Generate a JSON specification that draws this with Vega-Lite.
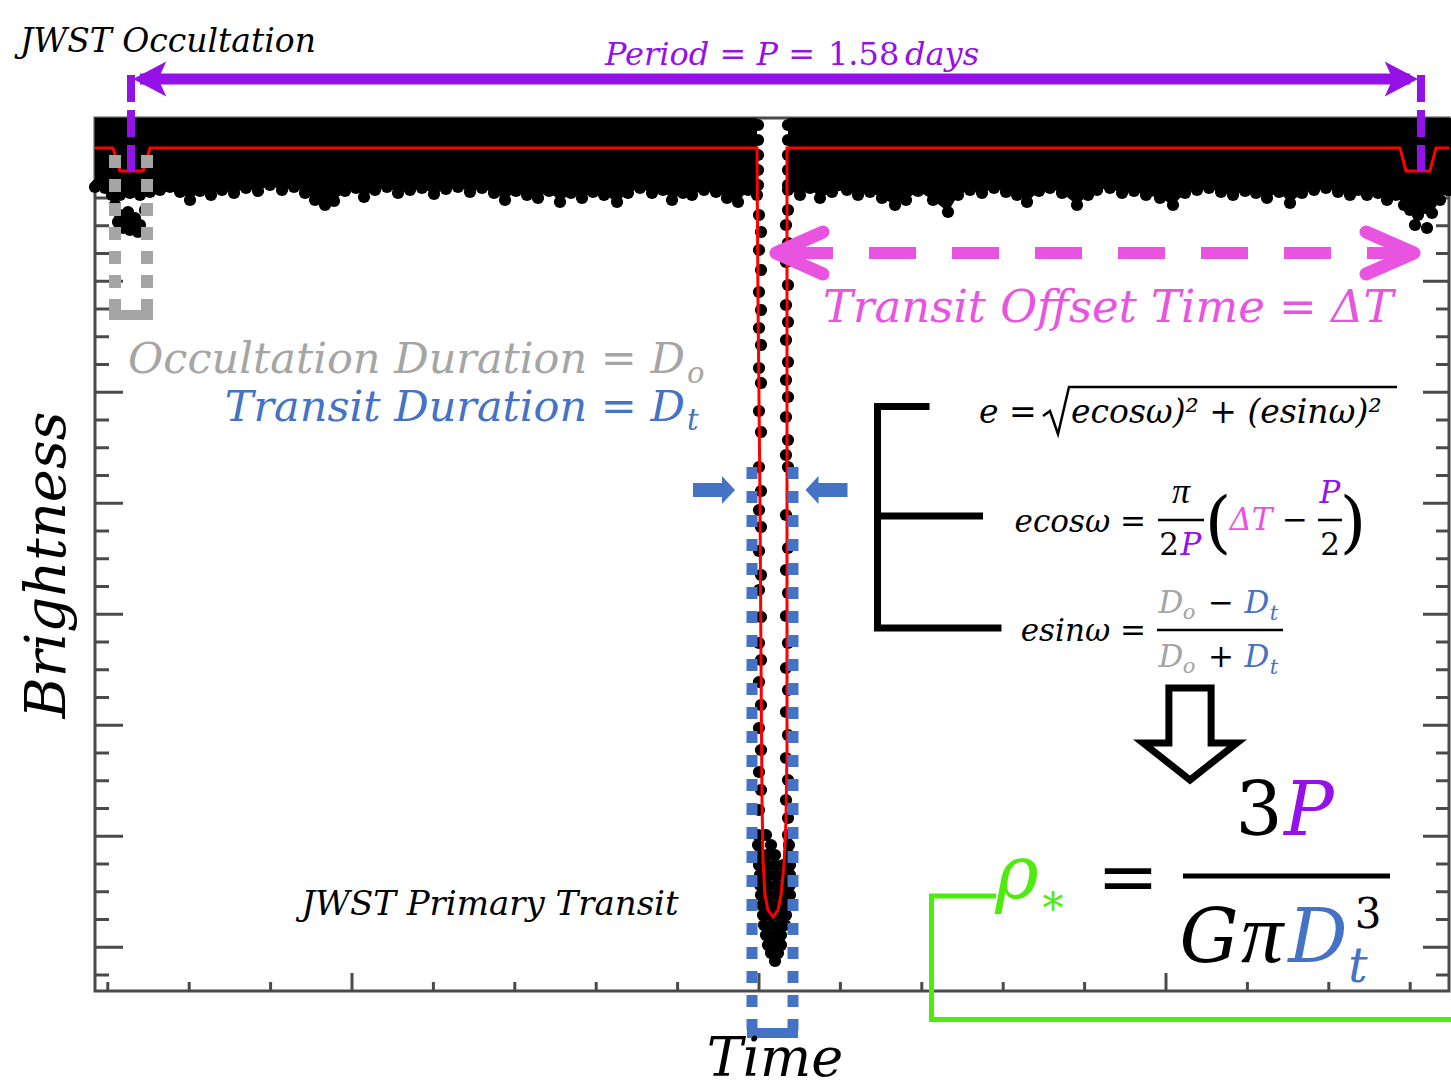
{
"$schema": "https://vega.github.io/schema/vega-lite/v6.json",
"width": 1354, "height": 873,
"autosize": {"type": "none"},
"padding": {"left": 95, "top": 118, "right": 2, "bottom": 97},
"background": "white",
"config": {"view": {"stroke": "#4a4a4a", "strokeWidth": 3}},
"datasets": {
"ticksx": [{"t":12.8,"major":false},{"t":94.2,"major":false},{"t":175.6,"major":false},{"t":257,"major":true},{"t":338.4,"major":false},{"t":419.8,"major":false},{"t":501.2,"major":false},{"t":582.6,"major":false},{"t":664,"major":true},{"t":745.4,"major":false},{"t":826.8,"major":false},{"t":908.2,"major":false},{"t":989.6,"major":false},{"t":1071,"major":true},{"t":1152.4,"major":false},{"t":1233.8,"major":false},{"t":1315.2,"major":false}],
"ticksy": [{"f":16,"major":false},{"f":43.75,"major":true},{"f":71.5,"major":false},{"f":99.25,"major":false},{"f":127,"major":false},{"f":154.75,"major":true},{"f":182.5,"major":false},{"f":210.25,"major":false},{"f":238,"major":false},{"f":265.75,"major":true},{"f":293.5,"major":false},{"f":321.25,"major":false},{"f":349,"major":false},{"f":376.75,"major":true},{"f":404.5,"major":false},{"f":432.25,"major":false},{"f":460,"major":false},{"f":487.75,"major":true},{"f":515.5,"major":false},{"f":543.25,"major":false},{"f":571,"major":false},{"f":598.75,"major":true},{"f":626.5,"major":false},{"f":654.25,"major":false},{"f":682,"major":false},{"f":709.75,"major":true},{"f":737.5,"major":false},{"f":765.25,"major":false},{"f":793,"major":false},{"f":820.75,"major":true},{"f":848.5,"major":false}],
"band": [
{"seg":"L","t":0,"f":804},{"seg":"L","t":2,"f":806},{"seg":"L","t":10,"f":803},{"seg":"L","t":17,"f":796},{"seg":"L","t":25,"f":796},{"seg":"L","t":35,"f":798},{"seg":"L","t":45,"f":796},{"seg":"L","t":55,"f":799},{"seg":"L","t":65,"f":801},{"seg":"L","t":75,"f":804},{"seg":"L","t":85,"f":799},{"seg":"L","t":95,"f":791},{"seg":"L","t":105,"f":800},{"seg":"L","t":116,"f":796},{"seg":"L","t":127,"f":801},{"seg":"L","t":139,"f":798},{"seg":"L","t":151,"f":803},{"seg":"L","t":163,"f":800},{"seg":"L","t":175,"f":806},{"seg":"L","t":187,"f":801},{"seg":"L","t":199,"f":804},{"seg":"L","t":210,"f":798},{"seg":"L","t":220,"f":791},{"seg":"L","t":230,"f":786},{"seg":"L","t":239,"f":790},{"seg":"L","t":250,"f":800},{"seg":"L","t":261,"f":803},{"seg":"L","t":269,"f":794},{"seg":"L","t":280,"f":801},{"seg":"L","t":292,"f":804},{"seg":"L","t":303,"f":798},{"seg":"L","t":315,"f":801},{"seg":"L","t":327,"f":803},{"seg":"L","t":339,"f":797},{"seg":"L","t":351,"f":802},{"seg":"L","t":363,"f":804},{"seg":"L","t":375,"f":799},{"seg":"L","t":387,"f":803},{"seg":"L","t":399,"f":798},{"seg":"L","t":410,"f":791},{"seg":"L","t":421,"f":800},{"seg":"L","t":432,"f":796},{"seg":"L","t":443,"f":793},{"seg":"L","t":454,"f":800},{"seg":"L","t":465,"f":789},{"seg":"L","t":476,"f":798},{"seg":"L","t":487,"f":793},{"seg":"L","t":498,"f":799},{"seg":"L","t":509,"f":796},{"seg":"L","t":522,"f":789},{"seg":"L","t":533,"f":798},{"seg":"L","t":545,"f":803},{"seg":"L","t":557,"f":798},{"seg":"L","t":568,"f":801},{"seg":"L","t":577,"f":791},{"seg":"L","t":588,"f":798},{"seg":"L","t":597,"f":796},{"seg":"L","t":609,"f":801},{"seg":"L","t":621,"f":799},{"seg":"L","t":632,"f":793},{"seg":"L","t":643,"f":789},{"seg":"L","t":653,"f":801},{"seg":"L","t":662,"f":796},
{"seg":"R","t":693,"f":801},{"seg":"R","t":705,"f":796},{"seg":"R","t":715,"f":803},{"seg":"R","t":725,"f":793},{"seg":"R","t":737,"f":799},{"seg":"R","t":752,"f":801},{"seg":"R","t":763,"f":796},{"seg":"R","t":775,"f":799},{"seg":"R","t":787,"f":793},{"seg":"R","t":800,"f":786},{"seg":"R","t":811,"f":791},{"seg":"R","t":823,"f":800},{"seg":"R","t":838,"f":791},{"seg":"R","t":853,"f":779},{"seg":"R","t":863,"f":796},{"seg":"R","t":875,"f":801},{"seg":"R","t":887,"f":798},{"seg":"R","t":899,"f":803},{"seg":"R","t":911,"f":799},{"seg":"R","t":922,"f":796},{"seg":"R","t":932,"f":789},{"seg":"R","t":944,"f":800},{"seg":"R","t":955,"f":803},{"seg":"R","t":967,"f":798},{"seg":"R","t":982,"f":786},{"seg":"R","t":993,"f":796},{"seg":"R","t":1002,"f":801},{"seg":"R","t":1015,"f":803},{"seg":"R","t":1027,"f":798},{"seg":"R","t":1039,"f":800},{"seg":"R","t":1051,"f":796},{"seg":"R","t":1065,"f":793},{"seg":"R","t":1078,"f":786},{"seg":"R","t":1090,"f":798},{"seg":"R","t":1102,"f":801},{"seg":"R","t":1114,"f":803},{"seg":"R","t":1126,"f":799},{"seg":"R","t":1138,"f":796},{"seg":"R","t":1150,"f":800},{"seg":"R","t":1161,"f":798},{"seg":"R","t":1172,"f":793},{"seg":"R","t":1184,"f":799},{"seg":"R","t":1195,"f":788},{"seg":"R","t":1207,"f":798},{"seg":"R","t":1219,"f":801},{"seg":"R","t":1231,"f":803},{"seg":"R","t":1243,"f":799},{"seg":"R","t":1255,"f":796},{"seg":"R","t":1263,"f":801},{"seg":"R","t":1272,"f":796},{"seg":"R","t":1283,"f":798},{"seg":"R","t":1292,"f":791},{"seg":"R","t":1301,"f":796},{"seg":"R","t":1309,"f":786},{"seg":"R","t":1315,"f":781},{"seg":"R","t":1323,"f":776},{"seg":"R","t":1330,"f":783},{"seg":"R","t":1337,"f":778},{"seg":"R","t":1345,"f":791},{"seg":"R","t":1352,"f":801},{"seg":"R","t":1356,"f":801}],
"pts": [
{"t":20,"f":786},{"t":25,"f":776},{"t":30,"f":769},{"t":35,"f":761},{"t":40,"f":773},{"t":45,"f":766},{"t":50,"f":781},{"t":33,"f":779},{"t":28,"f":763},{"t":43,"f":759},{"t":37,"f":769},{"t":23,"f":769},
{"t":1332,"f":763},{"t":1320,"f":766},
{"t":663,"f":866},{"t":663,"f":851},{"t":663,"f":836},{"t":663,"f":821},{"t":663,"f":806},{"t":693,"f":866},{"t":693,"f":851},{"t":693,"f":836},{"t":693,"f":821},{"t":693,"f":806},
{"t":664,"f":776},{"t":666,"f":759},{"t":664,"f":741},{"t":666,"f":721},{"t":664,"f":699},{"t":666,"f":681},{"t":664,"f":663},{"t":666,"f":646},{"t":664,"f":623},{"t":666,"f":608},{"t":664,"f":580},{"t":666,"f":559},{"t":664,"f":524},{"t":666,"f":500},{"t":664,"f":481},{"t":666,"f":464},{"t":664,"f":440},{"t":666,"f":416},{"t":664,"f":401},{"t":666,"f":374},{"t":664,"f":348},{"t":666,"f":331},{"t":664,"f":309},{"t":666,"f":286},{"t":664,"f":263},{"t":666,"f":241},{"t":664,"f":219},{"t":666,"f":201},{"t":664,"f":181},
{"t":693,"f":781},{"t":691,"f":766},{"t":693,"f":748},{"t":691,"f":729},{"t":693,"f":706},{"t":691,"f":686},{"t":693,"f":669},{"t":691,"f":651},{"t":693,"f":629},{"t":691,"f":611},{"t":693,"f":594},{"t":691,"f":574},{"t":693,"f":551},{"t":691,"f":536},{"t":693,"f":524},{"t":691,"f":476},{"t":693,"f":443},{"t":691,"f":421},{"t":693,"f":398},{"t":691,"f":375},{"t":693,"f":348},{"t":691,"f":323},{"t":693,"f":301},{"t":691,"f":279},{"t":693,"f":256},{"t":691,"f":233},{"t":693,"f":211},{"t":691,"f":191},{"t":693,"f":173},
{"t":663,"f":156},{"t":671,"f":156},{"t":693,"f":156},
{"t":663,"f":146},{"t":676,"f":146},{"t":694,"f":146},
{"t":664,"f":136},{"t":672,"f":136},{"t":680,"f":136},{"t":694,"f":136},
{"t":664,"f":126},{"t":672,"f":126},{"t":680,"f":126},{"t":688,"f":126},{"t":695,"f":126},
{"t":665,"f":116},{"t":673,"f":116},{"t":681,"f":116},{"t":689,"f":116},{"t":695,"f":116},
{"t":665,"f":106},{"t":673,"f":106},{"t":681,"f":106},{"t":689,"f":106},{"t":695,"f":106},
{"t":666,"f":96},{"t":674,"f":96},{"t":682,"f":96},{"t":690,"f":96},{"t":695,"f":96},
{"t":667,"f":86},{"t":675,"f":86},{"t":683,"f":86},{"t":691,"f":86},
{"t":668,"f":76},{"t":676,"f":76},{"t":684,"f":76},{"t":691,"f":76},
{"t":669,"f":66},{"t":677,"f":66},{"t":685,"f":66},{"t":690,"f":66},
{"t":671,"f":56},{"t":679,"f":56},{"t":686,"f":56},
{"t":673,"f":46},{"t":680,"f":46},{"t":686,"f":46},
{"t":676,"f":38},{"t":683,"f":38},
{"t":680,"f":30}],
"model": [{"i":1,"t":0,"f":843},{"i":2,"t":18,"f":843},{"i":3,"t":25,"f":820},{"i":4,"t":48,"f":820},{"i":5,"t":55,"f":843},{"i":6,"t":662,"f":843},{"i":7,"t":663,"f":691},{"i":8,"t":665,"f":491},{"i":9,"t":666,"f":331},{"i":10,"t":667,"f":191},{"i":11,"t":668,"f":131},{"i":12,"t":670,"f":96},{"i":13,"t":673,"f":81},{"i":14,"t":678,"f":74},{"i":15,"t":683,"f":81},{"i":16,"t":686,"f":96},{"i":17,"t":689,"f":126},{"i":18,"t":691,"f":171},{"i":19,"t":692,"f":241},{"i":20,"t":692,"f":843},{"i":21,"t":1305,"f":843},{"i":22,"t":1311,"f":820},{"i":23,"t":1335,"f":820},{"i":24,"t":1341,"f":843},{"i":25,"t":1354,"f":843}],
"rules": [
{"id":"pmain","t":45,"f":912,"t2":1315,"f2":912},
{"id":"pdl","t":36,"f":916,"t2":36,"f2":819},
{"id":"pdr","t":1326,"f":916,"t2":1326,"f2":819},
{"id":"gdl","t":20,"f":836,"t2":20,"f2":679},
{"id":"gdr","t":52,"f":836,"t2":52,"f2":679},
{"id":"gb","t":14,"f":676,"t2":58,"f2":676},
{"id":"bdl","t":657,"f":524,"t2":657,"f2":-39},
{"id":"bdr","t":698,"f":524,"t2":698,"f2":-39},
{"id":"bb","t":652,"f":-42,"t2":703,"f2":-42},
{"id":"kdash","t":691,"f":738,"t2":1319,"f2":738},
{"id":"kstub","t":682,"f":738,"t2":705,"f2":738},
{"id":"fb1","t":1063,"f":471,"t2":1109,"f2":471},
{"id":"fb2","t":1223,"f":471,"t2":1247,"f2":471},
{"id":"fb3","t":1062,"f":361,"t2":1188,"f2":361},
{"id":"bigbar","t":1088,"f":115,"t2":1295,"f2":115},
{"id":"brm","t":782.5,"f":475,"t2":888,"f2":475}],
"paths": [
{"id":"bracket","i":1,"t":831,"f":584.5},{"id":"bracket","i":2,"t":782.5,"f":584.5},{"id":"bracket","i":3,"t":782.5,"f":363},{"id":"bracket","i":4,"t":903,"f":363},
{"id":"green","i":1,"t":901,"f":95},{"id":"green","i":2,"t":836.5,"f":95},{"id":"green","i":3,"t":836.5,"f":-28.5},{"id":"green","i":4,"t":1365,"f":-28.5},
{"id":"chevL","i":1,"t":728,"f":759},{"id":"chevL","i":2,"t":681,"f":738},{"id":"chevL","i":3,"t":728,"f":717},
{"id":"chevR","i":1,"t":1271,"f":759},{"id":"chevR","i":2,"t":1319,"f":738},{"id":"chevR","i":3,"t":1271,"f":717},
{"id":"rad","i":1,"t":948,"f":575},{"id":"rad","i":2,"t":955,"f":580},{"id":"rad","i":3,"t":963,"f":557},{"id":"rad","i":4,"t":974,"f":604},{"id":"rad","i":5,"t":1302,"f":604}],
"shapes": [
{"id":"phl","t":55.5,"f":912},{"id":"phr","t":1305.5,"f":912},
{"id":"bal","t":619,"f":501},{"id":"bar","t":731.5,"f":501},
{"id":"down","t":1095,"f":257}],
"texts": [
{"id":"T1","label":"JWST Occultation","t":-75,"f":939,"role":"plain"},
{"id":"T2","label":"Period = P =","t":720,"f":926,"role":"period"},
{"id":"T3","label":"1.58","t":733,"f":926,"role":"period"},
{"id":"T4","label":"days","t":810,"f":926,"role":"period"},
{"id":"T5","label":"Transit Offset Time = ΔT","t":728,"f":669,"role":"offset"},
{"id":"T6","label":"Occultation Duration = D","t":590,"f":618,"role":"occult"},
{"id":"T7","label":"o","t":592,"f":608,"role":"occult"},
{"id":"T8","label":"Transit Duration = D","t":590,"f":570,"role":"transit"},
{"id":"T9","label":"t","t":592,"f":561,"role":"transit"},
{"id":"T10","label":"Brightness","t":-30,"f":426,"role":"plain"},
{"id":"T11","label":"Time","t":680,"f":-85,"role":"plain"},
{"id":"T12","label":"JWST Primary Transit","t":395,"f":76,"role":"plain"},
{"id":"T13","label":"e =","t":884,"f":568,"role":"plain"},
{"id":"T15","label":"ecosω)² + (esinω)²","t":976,"f":568,"role":"plain"},
{"id":"T16","label":"ecosω =","t":1051,"f":459,"role":"plain"},
{"id":"T17","label":"π","t":1086,"f":488,"role":"plain"},
{"id":"T18","label":"2","t":1074,"f":436,"role":"plain"},
{"id":"T19","label":"P","t":1096,"f":436,"role":"period"},
{"id":"T20","label":"(","t":1123,"f":446,"role":"plain"},
{"id":"T21","label":"ΔT","t":1156,"f":461,"role":"offset"},
{"id":"T22","label":"−","t":1200,"f":461,"role":"plain"},
{"id":"T23","label":"P","t":1235,"f":488,"role":"period"},
{"id":"T24","label":"2","t":1235,"f":436,"role":"plain"},
{"id":"T25","label":")","t":1258,"f":446,"role":"plain"},
{"id":"T26","label":"esinω =","t":1051,"f":350,"role":"plain"},
{"id":"T27","label":"D","t":1076,"f":378,"role":"occult"},
{"id":"T28","label":"o","t":1094,"f":372,"role":"occult"},
{"id":"T29","label":"−","t":1126,"f":378,"role":"plain"},
{"id":"T30","label":"D","t":1162,"f":378,"role":"transit"},
{"id":"T31","label":"t","t":1179,"f":371,"role":"transit"},
{"id":"T32","label":"D","t":1076,"f":324,"role":"occult"},
{"id":"T33","label":"o","t":1094,"f":318,"role":"occult"},
{"id":"T34","label":"+","t":1126,"f":324,"role":"plain"},
{"id":"T35","label":"D","t":1162,"f":324,"role":"transit"},
{"id":"T36","label":"t","t":1179,"f":317,"role":"transit"},
{"id":"T37","label":"ρ","t":922,"f":93,"role":"density"},
{"id":"T38","label":"*","t":958,"f":68,"role":"density"},
{"id":"T39","label":"=","t":1033,"f":89,"role":"plain"},
{"id":"T40","label":"3","t":1164,"f":156,"role":"plain"},
{"id":"T41","label":"P","t":1214,"f":156,"role":"period"},
{"id":"T42","label":"G","t":1114,"f":29,"role":"plain"},
{"id":"T46","label":"π","t":1167,"f":29,"role":"plain"},
{"id":"T43","label":"D","t":1223,"f":29,"role":"transit"},
{"id":"T44","label":"3","t":1273,"f":63,"role":"plain"},
{"id":"T45","label":"t","t":1263,"f":9,"role":"transit"}]
},
"layer": [
{"data": {"name": "ticksy"}, "transform": [{"filter": "datum.major"}], "mark": {"type": "rule", "strokeWidth": 3, "color": "#4a4a4a"}, "encoding": {"x": {"datum": 0, "type": "quantitative", "scale": {"domain": [0, 1354], "nice": false, "zero": false}, "axis": null}, "x2": {"datum": 28}, "y": {"field": "f", "type": "quantitative", "scale": {"domain": [0, 873], "nice": false, "zero": false}, "axis": null}}},
{"data": {"name": "ticksy"}, "transform": [{"filter": "!datum.major"}], "mark": {"type": "rule", "strokeWidth": 3, "color": "#4a4a4a"}, "encoding": {"x": {"datum": 0, "type": "quantitative", "scale": {"domain": [0, 1354], "nice": false, "zero": false}, "axis": null}, "x2": {"datum": 14}, "y": {"field": "f", "type": "quantitative", "scale": {"domain": [0, 873], "nice": false, "zero": false}, "axis": null}}},
{"data": {"name": "ticksy"}, "transform": [{"filter": "datum.major"}], "mark": {"type": "rule", "strokeWidth": 3, "color": "#4a4a4a"}, "encoding": {"x": {"datum": 1354, "type": "quantitative", "scale": {"domain": [0, 1354], "nice": false, "zero": false}, "axis": null}, "x2": {"datum": 1328}, "y": {"field": "f", "type": "quantitative", "scale": {"domain": [0, 873], "nice": false, "zero": false}, "axis": null}}},
{"data": {"name": "ticksy"}, "transform": [{"filter": "!datum.major"}], "mark": {"type": "rule", "strokeWidth": 3, "color": "#4a4a4a"}, "encoding": {"x": {"datum": 1354, "type": "quantitative", "scale": {"domain": [0, 1354], "nice": false, "zero": false}, "axis": null}, "x2": {"datum": 1341}, "y": {"field": "f", "type": "quantitative", "scale": {"domain": [0, 873], "nice": false, "zero": false}, "axis": null}}},
{"data": {"name": "ticksx"}, "transform": [{"filter": "datum.major"}], "mark": {"type": "rule", "strokeWidth": 3, "color": "#4a4a4a"}, "encoding": {"x": {"field": "t", "type": "quantitative", "scale": {"domain": [0, 1354], "nice": false, "zero": false}, "axis": null}, "y": {"datum": 0, "type": "quantitative", "scale": {"domain": [0, 873], "nice": false, "zero": false}, "axis": null}, "y2": {"datum": 18}}},
{"data": {"name": "ticksx"}, "transform": [{"filter": "!datum.major"}], "mark": {"type": "rule", "strokeWidth": 3, "color": "#4a4a4a"}, "encoding": {"x": {"field": "t", "type": "quantitative", "scale": {"domain": [0, 1354], "nice": false, "zero": false}, "axis": null}, "y": {"datum": 0, "type": "quantitative", "scale": {"domain": [0, 873], "nice": false, "zero": false}, "axis": null}, "y2": {"datum": 9}}},
{"encoding": {
"x": {"field": "t", "type": "quantitative", "scale": {"domain": [0, 1354], "nice": false, "zero": false}, "axis": null},
"y": {"field": "f", "type": "quantitative", "scale": {"domain": [0, 873], "nice": false, "zero": false}, "axis": null}
},
"layer": [
{"data": {"name": "band"}, "mark": {"type": "area", "orient": "vertical", "color": "black", "opacity": 1}, "encoding": {"y2": {"datum": 873}, "detail": {"field": "seg"}}},
{"data": {"name": "band"}, "mark": {"type": "point", "shape": "circle", "filled": true, "size": 150, "color": "black", "opacity": 1}},
{"data": {"name": "pts"}, "mark": {"type": "point", "shape": "circle", "filled": true, "size": 150, "color": "black", "opacity": 1}},
{"data": {"name": "model"}, "mark": {"type": "line", "color": "#ff0000", "strokeWidth": 3}, "encoding": {"order": {"field": "i", "type": "quantitative"}}},
{"data": {"name": "rules"}, "transform": [{"filter": {"field": "id", "oneOf": ["gdl", "gdr"]}}], "mark": {"type": "rule", "color": "#a5a5a5", "strokeWidth": 12, "strokeDash": [13, 11]}, "encoding": {"x2": {"field": "t2"}, "y2": {"field": "f2"}}},
{"data": {"name": "rules"}, "transform": [{"filter": {"field": "id", "oneOf": ["gb"]}}], "mark": {"type": "rule", "color": "#a5a5a5", "strokeWidth": 10}, "encoding": {"x2": {"field": "t2"}, "y2": {"field": "f2"}}},
{"data": {"name": "rules"}, "transform": [{"filter": {"field": "id", "oneOf": ["bdl", "bdr"]}}], "mark": {"type": "rule", "color": "#4472c4", "strokeWidth": 11, "strokeDash": [12, 12]}, "encoding": {"x2": {"field": "t2"}, "y2": {"field": "f2"}}},
{"data": {"name": "rules"}, "transform": [{"filter": {"field": "id", "oneOf": ["bb"]}}], "mark": {"type": "rule", "color": "#4472c4", "strokeWidth": 10}, "encoding": {"x2": {"field": "t2"}, "y2": {"field": "f2"}}},
{"data": {"name": "shapes"}, "transform": [{"filter": {"field": "id", "oneOf": ["bal"]}}], "mark": {"type": "point", "shape": "M -1 -0.33 L 0.38 -0.33 L 0.38 -0.67 L 1 0 L 0.38 0.67 L 0.38 0.33 L -1 0.33 Z", "filled": true, "size": 1764, "color": "#4472c4", "opacity": 1}},
{"data": {"name": "shapes"}, "transform": [{"filter": {"field": "id", "oneOf": ["bar"]}}], "mark": {"type": "point", "shape": "M -1 -0.33 L 0.38 -0.33 L 0.38 -0.67 L 1 0 L 0.38 0.67 L 0.38 0.33 L -1 0.33 Z", "angle": 180, "filled": true, "size": 1764, "color": "#4472c4", "opacity": 1}},
{"data": {"name": "rules"}, "transform": [{"filter": {"field": "id", "oneOf": ["kdash"]}}], "mark": {"type": "rule", "color": "#e854e0", "strokeWidth": 12, "strokeDash": [47, 36]}, "encoding": {"x2": {"field": "t2"}, "y2": {"field": "f2"}}},
{"data": {"name": "rules"}, "transform": [{"filter": {"field": "id", "oneOf": ["kstub"]}}], "mark": {"type": "rule", "color": "#e854e0", "strokeWidth": 12}, "encoding": {"x2": {"field": "t2"}, "y2": {"field": "f2"}}},
{"data": {"name": "paths"}, "transform": [{"filter": {"field": "id", "oneOf": ["chevL", "chevR"]}}], "mark": {"type": "line", "color": "#e854e0", "strokeWidth": 13, "strokeCap": "round", "strokeJoin": "round"}, "encoding": {"detail": {"field": "id"}, "order": {"field": "i", "type": "quantitative"}}},
{"data": {"name": "rules"}, "transform": [{"filter": {"field": "id", "oneOf": ["pmain"]}}], "mark": {"type": "rule", "color": "#9411e8", "strokeWidth": 11}, "encoding": {"x2": {"field": "t2"}, "y2": {"field": "f2"}}},
{"data": {"name": "rules"}, "transform": [{"filter": {"field": "id", "oneOf": ["pdl", "pdr"]}}], "mark": {"type": "rule", "color": "#9411e8", "strokeWidth": 8, "strokeDash": [27, 8]}, "encoding": {"x2": {"field": "t2"}, "y2": {"field": "f2"}}},
{"data": {"name": "shapes"}, "transform": [{"filter": {"field": "id", "oneOf": ["phr"]}}], "mark": {"type": "point", "shape": "M 1 0 L -0.9 -1 L -0.45 0 L -0.9 1 Z", "filled": true, "size": 1225, "color": "#9411e8", "opacity": 1}},
{"data": {"name": "shapes"}, "transform": [{"filter": {"field": "id", "oneOf": ["phl"]}}], "mark": {"type": "point", "shape": "M 1 0 L -0.9 -1 L -0.45 0 L -0.9 1 Z", "angle": 180, "filled": true, "size": 1225, "color": "#9411e8", "opacity": 1}},
{"data": {"name": "paths"}, "transform": [{"filter": {"field": "id", "oneOf": ["bracket"]}}], "mark": {"type": "line", "color": "black", "strokeWidth": 7, "strokeJoin": "miter", "strokeCap": "square"}, "encoding": {"order": {"field": "i", "type": "quantitative"}}},
{"data": {"name": "rules"}, "transform": [{"filter": {"field": "id", "oneOf": ["brm"]}}], "mark": {"type": "rule", "color": "black", "strokeWidth": 7}, "encoding": {"x2": {"field": "t2"}, "y2": {"field": "f2"}}},
{"data": {"name": "paths"}, "transform": [{"filter": {"field": "id", "oneOf": ["green"]}}], "mark": {"type": "line", "color": "#4deb0e", "strokeWidth": 5, "strokeJoin": "miter"}, "encoding": {"order": {"field": "i", "type": "quantitative"}}},
{"data": {"name": "paths"}, "transform": [{"filter": {"field": "id", "oneOf": ["rad"]}}], "mark": {"type": "line", "color": "black", "strokeWidth": 2.5, "strokeJoin": "miter"}, "encoding": {"order": {"field": "i", "type": "quantitative"}}},
{"data": {"name": "rules"}, "transform": [{"filter": {"field": "id", "oneOf": ["fb1", "fb2", "fb3"]}}], "mark": {"type": "rule", "color": "black", "strokeWidth": 2.5}, "encoding": {"x2": {"field": "t2"}, "y2": {"field": "f2"}}},
{"data": {"name": "rules"}, "transform": [{"filter": {"field": "id", "oneOf": ["bigbar"]}}], "mark": {"type": "rule", "color": "black", "strokeWidth": 5}, "encoding": {"x2": {"field": "t2"}, "y2": {"field": "f2"}}},
{"data": {"name": "shapes"}, "transform": [{"filter": {"field": "id", "oneOf": ["down"]}}], "mark": {"type": "point", "shape": "M -0.45 -0.98 L 0.45 -0.98 L 0.45 0.19 L 1 0.19 L 0 0.98 L -1 0.19 L -0.45 0.19 Z", "filled": false, "fill": "white", "fillOpacity": 1, "stroke": "black", "strokeWidth": 7, "strokeJoin": "miter", "size": 8800, "opacity": 1}},
{"data": {"name": "texts"}, "transform": [{"filter": {"field": "id", "oneOf": ["T1"]}}], "mark": {"type": "text", "font": "DejaVu Serif", "fontStyle": "italic", "fontSize": 33, "align": "left", "baseline": "alphabetic"}, "encoding": {"text": {"field": "label"}, "color": {"field": "role", "type": "nominal", "scale": {"domain": ["plain", "period", "transit", "occult", "offset", "density"], "range": ["#000000", "#9411e8", "#4472c4", "#a5a5a5", "#e854e0", "#4deb0e"]}, "legend": null}}},
{"data": {"name": "texts"}, "transform": [{"filter": {"field": "id", "oneOf": ["T2"]}}], "mark": {"type": "text", "font": "DejaVu Serif", "fontStyle": "italic", "fontSize": 32, "align": "right", "baseline": "alphabetic"}, "encoding": {"text": {"field": "label"}, "color": {"field": "role", "type": "nominal", "legend": null}}},
{"data": {"name": "texts"}, "transform": [{"filter": {"field": "id", "oneOf": ["T4"]}}], "mark": {"type": "text", "font": "DejaVu Serif", "fontStyle": "italic", "fontSize": 32, "align": "left", "baseline": "alphabetic"}, "encoding": {"text": {"field": "label"}, "color": {"field": "role", "type": "nominal", "legend": null}}},
{"data": {"name": "texts"}, "transform": [{"filter": {"field": "id", "oneOf": ["T3"]}}], "mark": {"type": "text", "font": "DejaVu Serif", "fontSize": 32, "align": "left", "baseline": "alphabetic"}, "encoding": {"text": {"field": "label"}, "color": {"field": "role", "type": "nominal", "legend": null}}},
{"data": {"name": "texts"}, "transform": [{"filter": {"field": "id", "oneOf": ["T5"]}}], "mark": {"type": "text", "font": "DejaVu Serif", "fontStyle": "italic", "fontSize": 45, "align": "left", "baseline": "alphabetic"}, "encoding": {"text": {"field": "label"}, "color": {"field": "role", "type": "nominal", "legend": null}}},
{"data": {"name": "texts"}, "transform": [{"filter": {"field": "id", "oneOf": ["T6", "T8"]}}], "mark": {"type": "text", "font": "DejaVu Serif", "fontStyle": "italic", "fontSize": 43, "align": "right", "baseline": "alphabetic"}, "encoding": {"text": {"field": "label"}, "color": {"field": "role", "type": "nominal", "legend": null}}},
{"data": {"name": "texts"}, "transform": [{"filter": {"field": "id", "oneOf": ["T7", "T9"]}}], "mark": {"type": "text", "font": "DejaVu Serif", "fontStyle": "italic", "fontSize": 29, "align": "left", "baseline": "alphabetic"}, "encoding": {"text": {"field": "label"}, "color": {"field": "role", "type": "nominal", "legend": null}}},
{"data": {"name": "texts"}, "transform": [{"filter": {"field": "id", "oneOf": ["T10"]}}], "mark": {"type": "text", "font": "DejaVu Serif", "fontStyle": "italic", "fontSize": 56, "align": "center", "baseline": "alphabetic", "angle": 270}, "encoding": {"text": {"field": "label"}, "color": {"field": "role", "type": "nominal", "legend": null}}},
{"data": {"name": "texts"}, "transform": [{"filter": {"field": "id", "oneOf": ["T11"]}}], "mark": {"type": "text", "font": "DejaVu Serif", "fontStyle": "italic", "fontSize": 54, "align": "center", "baseline": "alphabetic"}, "encoding": {"text": {"field": "label"}, "color": {"field": "role", "type": "nominal", "legend": null}}},
{"data": {"name": "texts"}, "transform": [{"filter": {"field": "id", "oneOf": ["T12"]}}], "mark": {"type": "text", "font": "DejaVu Serif", "fontStyle": "italic", "fontSize": 34, "align": "center", "baseline": "alphabetic"}, "encoding": {"text": {"field": "label"}, "color": {"field": "role", "type": "nominal", "legend": null}}},
{"data": {"name": "texts"}, "transform": [{"filter": {"field": "id", "oneOf": ["T13", "T15"]}}], "mark": {"type": "text", "font": "DejaVu Serif", "fontStyle": "italic", "fontSize": 33, "align": "left", "baseline": "alphabetic"}, "encoding": {"text": {"field": "label"}, "color": {"field": "role", "type": "nominal", "legend": null}}},
{"data": {"name": "texts"}, "transform": [{"filter": {"field": "id", "oneOf": ["T16", "T26"]}}], "mark": {"type": "text", "font": "DejaVu Serif", "fontStyle": "italic", "fontSize": 31, "align": "right", "baseline": "alphabetic"}, "encoding": {"text": {"field": "label"}, "color": {"field": "role", "type": "nominal", "legend": null}}},
{"data": {"name": "texts"}, "transform": [{"filter": {"field": "id", "oneOf": ["T19", "T21", "T23", "T27", "T30", "T32", "T35"]}}], "mark": {"type": "text", "font": "DejaVu Serif", "fontStyle": "italic", "fontSize": 31, "align": "center", "baseline": "alphabetic"}, "encoding": {"text": {"field": "label"}, "color": {"field": "role", "type": "nominal", "legend": null}}},
{"data": {"name": "texts"}, "transform": [{"filter": {"field": "id", "oneOf": ["T18", "T22", "T24", "T29", "T34"]}}], "mark": {"type": "text", "font": "DejaVu Serif", "fontSize": 31, "align": "center", "baseline": "alphabetic"}, "encoding": {"text": {"field": "label"}, "color": {"field": "role", "type": "nominal", "legend": null}}},
{"data": {"name": "texts"}, "transform": [{"filter": {"field": "id", "oneOf": ["T17"]}}], "mark": {"type": "text", "font": "Liberation Serif", "fontStyle": "italic", "fontSize": 36, "align": "center", "baseline": "alphabetic"}, "encoding": {"text": {"field": "label"}, "color": {"field": "role", "type": "nominal", "legend": null}}},
{"data": {"name": "texts"}, "transform": [{"filter": {"field": "id", "oneOf": ["T20", "T25"]}}], "mark": {"type": "text", "font": "DejaVu Serif", "fontSize": 68, "align": "center", "baseline": "alphabetic"}, "encoding": {"text": {"field": "label"}, "color": {"field": "role", "type": "nominal", "legend": null}}},
{"data": {"name": "texts"}, "transform": [{"filter": {"field": "id", "oneOf": ["T28", "T31", "T33", "T36"]}}], "mark": {"type": "text", "font": "DejaVu Serif", "fontStyle": "italic", "fontSize": 21, "align": "center", "baseline": "alphabetic"}, "encoding": {"text": {"field": "label"}, "color": {"field": "role", "type": "nominal", "legend": null}}},
{"data": {"name": "texts"}, "transform": [{"filter": {"field": "id", "oneOf": ["T37", "T41", "T42", "T43"]}}], "mark": {"type": "text", "font": "DejaVu Serif", "fontStyle": "italic", "fontSize": 74, "align": "center", "baseline": "alphabetic"}, "encoding": {"text": {"field": "label"}, "color": {"field": "role", "type": "nominal", "legend": null}}},
{"data": {"name": "texts"}, "transform": [{"filter": {"field": "id", "oneOf": ["T46"]}}], "mark": {"type": "text", "font": "Liberation Serif", "fontStyle": "italic", "fontSize": 84, "align": "center", "baseline": "alphabetic"}, "encoding": {"text": {"field": "label"}, "color": {"field": "role", "type": "nominal", "legend": null}}},
{"data": {"name": "texts"}, "transform": [{"filter": {"field": "id", "oneOf": ["T39", "T40"]}}], "mark": {"type": "text", "font": "DejaVu Serif", "fontSize": 74, "align": "center", "baseline": "alphabetic"}, "encoding": {"text": {"field": "label"}, "color": {"field": "role", "type": "nominal", "legend": null}}},
{"data": {"name": "texts"}, "transform": [{"filter": {"field": "id", "oneOf": ["T38", "T44"]}}], "mark": {"type": "text", "font": "DejaVu Serif", "fontSize": 42, "align": "center", "baseline": "alphabetic"}, "encoding": {"text": {"field": "label"}, "color": {"field": "role", "type": "nominal", "legend": null}}},
{"data": {"name": "texts"}, "transform": [{"filter": {"field": "id", "oneOf": ["T45"]}}], "mark": {"type": "text", "font": "DejaVu Serif", "fontStyle": "italic", "fontSize": 48, "align": "center", "baseline": "alphabetic"}, "encoding": {"text": {"field": "label"}, "color": {"field": "role", "type": "nominal", "legend": null}}}
]}
]
}
